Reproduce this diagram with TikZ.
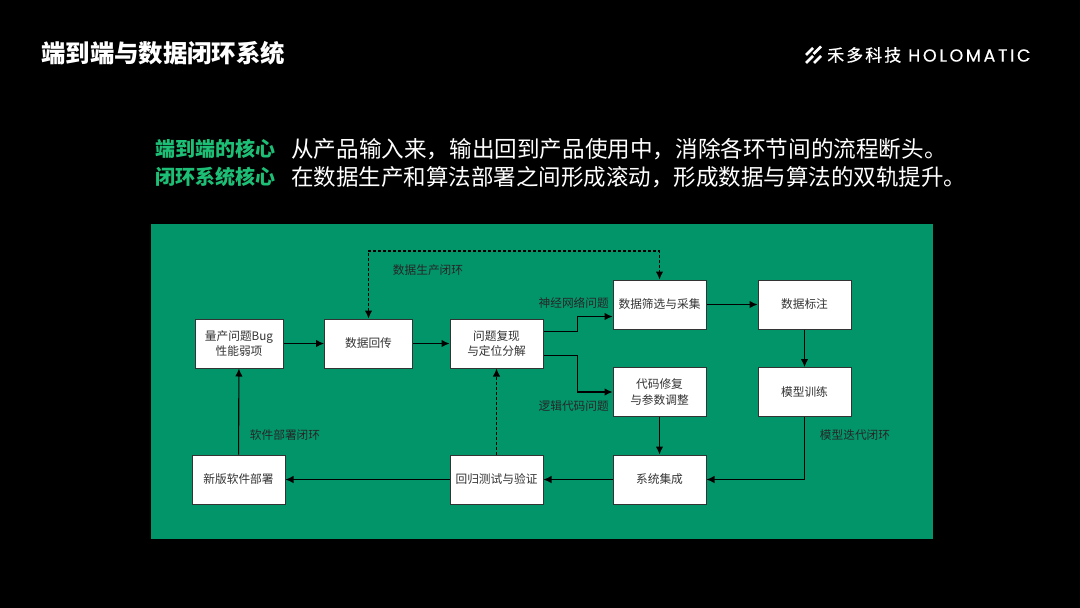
\documentclass[tikz,border=0pt]{standalone}
\usepackage{xcolor}
\usepackage{fontspec}
\setmainfont{Noto Sans CJK SC}
\newfontfamily\logofont[LetterSpace=15,FakeBold=0.4]{Poppins}
\newfontfamily\logocjk[LetterSpace=12,FakeBold=0.4]{Noto Sans CJK SC}
\usetikzlibrary{arrows.meta, positioning}
\definecolor{panelgreen}{HTML}{03956A}
\definecolor{headgreen}{HTML}{1DBF76}

\begin{document}
\begin{tikzpicture}[
    x=1pt, y=-1pt,
    node font=\fontsize{11.7}{15.5}\selectfont,
    stepbox/.style={draw=black!80, fill=white, line width=1pt, minimum width=93pt, minimum height=49pt, inner sep=0pt, align=center, text=black!80},
    looplabel/.style={inner sep=0pt, text=black!85},
    flow/.style={-{Latex[length=8pt,width=7.5pt]}, line width=1.1pt, black},
    loopflow/.style={flow, dash pattern=on 2.8pt off 2.2pt}
]
  \useasboundingbox (0,0) rectangle (1080,608);
  \fill[black] (0,0) rectangle (1080,608);

  % --- HEADER ---
  \node[anchor=west, inner sep=0pt, text=white, font=\fontsize{24.4}{28}\selectfont\bfseries] (title) at (41,53) {端到端与数据闭环系统};
  \foreach \x/\y/\len in {806/55/7, 813.5/54/7.5, 806/63/7, 814/63/7}
    \draw[white, line width=2.6pt] (\x,\y) -- ++(\len,-\len);
  \node[anchor=west, inner sep=0pt, text=white, font=\fontsize{17}{18}\logocjk] (logocn) at (827,55) {禾多科技};
  \node[anchor=west, inner sep=0pt, text=white, font=\fontsize{17.5}{18}\logofont] (logoen) at (908,55.5) {HOLOMATIC};

  % --- SUMMARY ---
  \node[anchor=west, inner sep=0pt, text=headgreen, font=\fontsize{20}{24}\selectfont\bfseries] (headone) at (155,149) {端到端的核心};
  \node[anchor=west, inner sep=0pt, text=headgreen, font=\fontsize{20}{24}\selectfont\bfseries] (headtwo) at (155,177) {闭环系统核心};
  \node[anchor=west, inner sep=0pt, text=white, font=\fontsize{22.6}{24}\selectfont] (textone) at (291,149) {从产品输入来，输出回到产品使用中，消除各环节间的流程断头。};
  \node[anchor=west, inner sep=0pt, text=white, font=\fontsize{22.5}{24}\selectfont] (texttwo) at (291,177) {在数据生产和算法部署之间形成滚动，形成数据与算法的双轨提升。};

  % --- PANEL ---
  \fill[panelgreen] (151,224) rectangle (933,539);

  \node[stepbox, minimum width=88pt] (bug) at (239,343.5) {量产问题Bug\\性能弱项};
  \node[stepbox, minimum width=88pt] (upload) at (368.5,343.5) {数据回传};
  \node[stepbox] (locate) at (496.5,343.5) {问题复现\\与定位分解};
  \node[stepbox] (select) at (659.5,304.5) {数据筛选与采集};
  \node[stepbox] (label) at (804.5,304.5) {数据标注};
  \node[stepbox] (fix) at (659.5,392) {代码修复\\与参数调整};
  \node[stepbox] (train) at (804.5,392) {模型训练};
  \node[stepbox] (integrate) at (659.5,479.5) {系统集成};
  \node[stepbox] (regress) at (496.5,479.5) {回归测试与验证};
  \node[stepbox] (release) at (238.5,479.5) {新版软件部署};

  \draw[flow] (bug) -- (upload);
  \draw[flow] (upload) -- (locate);
  \draw[flow] (select) -- (label);
  \draw[flow] (label) -- (train);
  \draw[flow] (fix) -- (integrate);
  \draw[flow] (integrate) -- (regress);
  \draw[flow] (regress) -- (release);
  \draw[flow] (release) -- (bug);
  \draw[flow] (train.south) |- (integrate.east);
  \draw[flow] ([yshift=12pt]locate.east) -| (577.5,316.5) -- ([yshift=-12pt]select.west);
  \draw[flow] ([yshift=-12pt]locate.east) -| (577.5,392) -- (fix.west);

  % Dashed loops
  \draw[loopflow] (regress) -- (locate);
  \draw[loopflow, {Latex[length=8pt,width=7.5pt]}-{Latex[length=8pt,width=7.5pt]}] (upload.north) |- (368.5,251) -| (select.north);

  \node[looplabel] (datalabel) at (428,270) {数据生产闭环};
  \node[looplabel, anchor=east] (nnlabel) at (609,303) {神经网络问题};
  \node[looplabel, anchor=east] (logiclabel) at (609,406) {逻辑代码问题};
  \node[looplabel] (softlabel) at (285,435.5) {软件部署闭环};
  \node[looplabel] (modellabel) at (855,435.5) {模型迭代闭环};

\end{tikzpicture}
\end{document}
